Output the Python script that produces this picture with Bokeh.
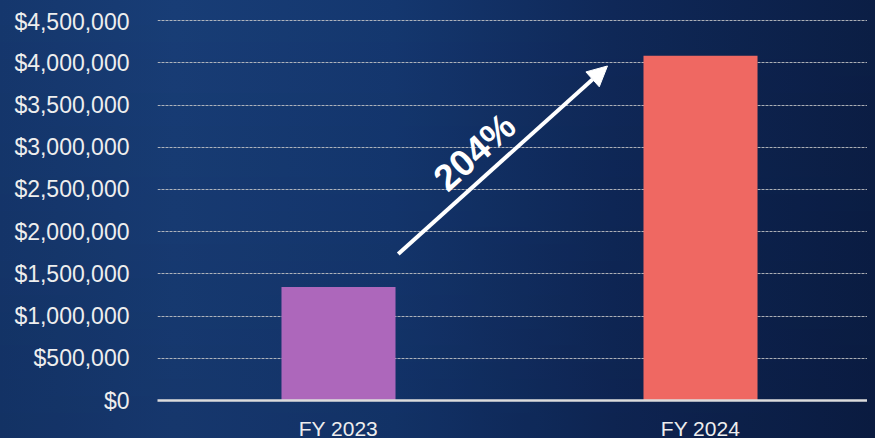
from bokeh.plotting import figure
from bokeh.models import Range1d, FixedTicker, NumeralTickFormatter, Arrow, NormalHead, Label
from bokeh.embed import file_html
from bokeh.resources import INLINE

# ---- data ----
categories = ["FY 2023", "FY 2024"]
revenue = [1345000, 4085000]
bar_colors = ["#ad67bb", "#ef6862"]
growth_label = "204%"
y_ticks = [0, 500000, 1000000, 1500000, 2000000, 2500000, 3000000, 3500000, 4000000, 4500000]

xs = [i + 0.5 for i in range(len(categories))]

X0, X1 = 0, len(categories)
Y0, Y1 = 0, 4644000

p = figure(frame_width=718, frame_height=392,
           x_range=Range1d(X0, X1 * 0.9917), y_range=Range1d(Y0, Y1),
           output_backend="svg", toolbar_location=None,
           min_border_left=149, min_border_right=0, min_border_top=0, min_border_bottom=0)

# transparent canvas: page background gradient shows through
p.border_fill_color = None
p.border_fill_alpha = 0
p.background_fill_color = None
p.background_fill_alpha = 0
p.outline_line_color = None

p.vbar(x=xs, top=revenue, width=0.315, color=bar_colors, line_color=None)

# axes
p.xgrid.grid_line_color = None
p.ygrid.ticker = FixedTicker(ticks=y_ticks)
p.ygrid.grid_line_color = "#c9c9c9"
p.ygrid.grid_line_alpha = 0.85
p.ygrid.grid_line_width = 1
p.ygrid.grid_line_dash = "3 1"

p.yaxis.ticker = FixedTicker(ticks=y_ticks)
p.yaxis.formatter = NumeralTickFormatter(format="$0,0")
p.yaxis.axis_line_color = None
p.yaxis.major_tick_line_color = None
p.yaxis.minor_tick_line_color = None
p.yaxis.major_tick_out = 0
p.yaxis.major_label_standoff = 28
p.yaxis.major_label_text_font = "Liberation Sans"
p.yaxis.major_label_text_font_size = "23px"
p.yaxis.major_label_text_color = "#eeeeee"

p.xaxis.ticker = FixedTicker(ticks=xs)
p.xaxis.major_label_overrides = {x: c for x, c in zip(xs, categories)}
p.xaxis.axis_line_color = "#dcdcdc"
p.xaxis.axis_line_width = 2.5
p.xaxis.major_tick_line_color = None
p.xaxis.minor_tick_line_color = None
p.xaxis.major_tick_out = 0
p.xaxis.major_label_standoff = 16
p.xaxis.major_label_text_font = "Liberation Sans"
p.xaxis.major_label_text_font_size = "21px"
p.xaxis.major_label_text_color = "#eeeeee"

# growth arrow annotation
ARROW_START = (0.665, 1736000)
ARROW_END = (1.243, 3963000)
p.add_layout(Arrow(x_start=ARROW_START[0], y_start=ARROW_START[1],
                   x_end=ARROW_END[0], y_end=ARROW_END[1],
                   line_color="white", line_width=4,
                   end=NormalHead(size=20, fill_color="white", line_color="white", line_width=1)))
p.add_layout(Label(x=0.876, y=2944000, text=growth_label, angle=0.732,
                   text_align="center", text_baseline="middle",
                   text_font="Liberation Sans", text_font_style="bold",
                   text_font_size="37px", text_color="white"))

tmpl = ("{% block preamble %}<style>"
        "html{min-height:100% !important;overflow:hidden !important;"
        "background:linear-gradient(to bottom, rgba(0,0,0,0) 0%, rgba(0,0,20,0.10) 100%),"
        "linear-gradient(to right, #15376d 0%, #183d76 20%, #14376f 45%, #0f2858 70%, #0b1e45 100%) !important;}"
        "body{margin:8px !important;overflow:hidden !important;background:transparent !important;}"
        "</style>{% endblock %}")
try:
    html = file_html(p, INLINE, template=tmpl)
except Exception:
    html = file_html(p, INLINE)
open("out.html", "w").write(html)
